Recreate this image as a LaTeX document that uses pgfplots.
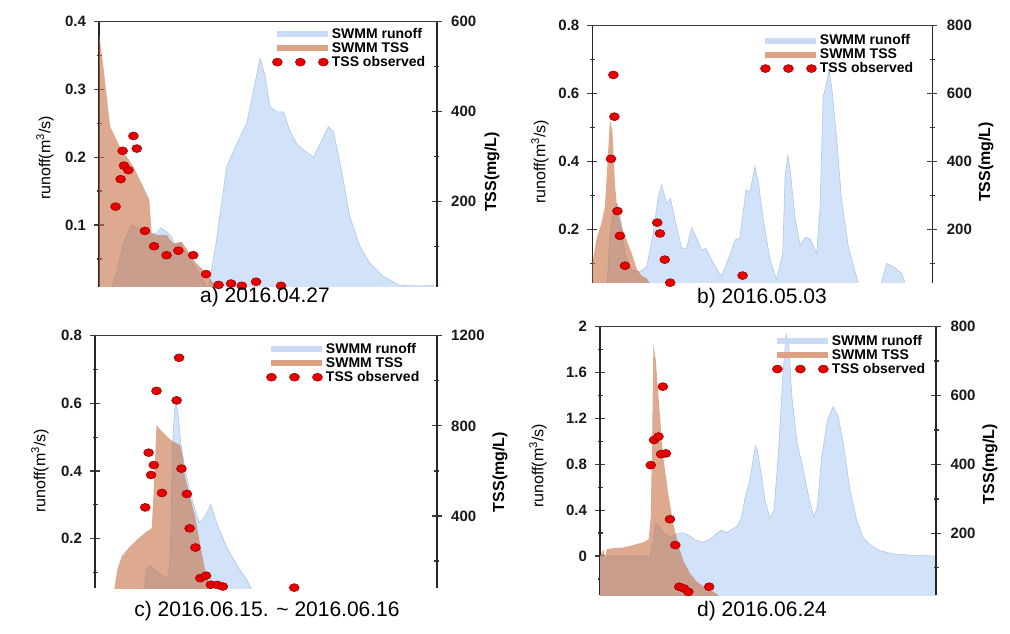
\documentclass[border=0pt]{standalone}
\usepackage{fontspec}
\setmainfont{Liberation Sans}
\setsansfont{Liberation Sans}
\usepackage{pgfplots}
\pgfplotsset{compat=1.18}
\definecolor{runoffblue}{RGB}{210,226,248}
\definecolor{runoffedge}{RGB}{175,198,236}
\definecolor{tssbrown}{RGB}{198,113,70}
\definecolor{legblue}{RGB}{201,219,244}
\definecolor{legbrown}{RGB}{220,162,132}
\definecolor{dotred}{RGB}{230,0,0}
\definecolor{dotedge}{RGB}{150,0,0}
\definecolor{tickgray}{RGB}{60,60,60}
\pgfplotsset{
  base/.style={scale only axis, anchor=south west, xmin=0, xmax=100,
    xtick=\empty,
    axis x line*=top,
    x axis line style={-, tickgray, line width=1.4pt},
    ticklabel style={font=\bfseries\fontsize{15}{15}\selectfont, text=black!90},
    /pgf/number format/assume math mode=true,
    /pgf/number format/1000 sep={},
  },
  leftax/.style={base, axis y line*=left,
    y axis line style={-, black!85, line width=1.6pt},
    ytick pos=left,
    every major y tick/.style={draw=tickgray, line width=1.3pt, xshift=-5pt},
    every minor y tick/.style={draw=tickgray, line width=1.3pt, xshift=-2.5pt},
    major tick length=10pt, minor tick length=5pt,
    yticklabel style={xshift=-9.5pt}},
  rightax/.style={base, axis y line*=right,
    y axis line style={-, black!85, line width=1.6pt},
    ytick pos=right, yticklabel pos=right,
    every major y tick/.style={draw=tickgray, line width=1.3pt, xshift=5pt},
    every minor y tick/.style={draw=tickgray, line width=1.3pt, xshift=2.5pt},
    major tick length=10pt, minor tick length=5pt,
    yticklabel style={xshift=11pt},
    legend cell align=left,
    legend style={draw=none, fill=none, font=\bfseries\fontsize{14}{14}\selectfont,
      nodes={inner sep=0.5pt}, row sep=1.5pt, anchor=north east}},
  blue/.style={fill=runoffblue, draw=runoffedge, line width=0.6pt},
  brown/.style={fill=tssbrown, fill opacity=0.6, draw=none, forget plot},
  dots/.style={only marks, mark=*, mark size=4pt, forget plot,
    mark options={xscale=1.25, fill=dotred, draw=dotedge, line width=0.5pt}},
}
\newcommand{\mylegend}{%
  \addlegendimage{legend image code/.code={\draw[line width=6pt, legblue] (0pt,0pt) -- (51pt,0pt);}}
  \addlegendentry{SWMM runoff}
  \addlegendimage{legend image code/.code={\draw[line width=6pt, legbrown] (0pt,0pt) -- (51pt,0pt);}}
  \addlegendentry{SWMM TSS}
  \addlegendimage{legend image code/.code={\foreach \xx in {0,23,46}{\filldraw[fill=dotred, draw=dotedge, line width=0.5pt] (\xx pt,0pt) ellipse [x radius=5pt, y radius=4pt];}}}
  \addlegendentry{TSS observed}
}
\begin{document}
\begin{tikzpicture}
\useasboundingbox (0pt,0pt) rectangle (1010pt,-634pt);

% ---------------- a ----------------
\begin{axis}[leftax, at={(99pt,-286.7pt)}, width=337.7pt, height=265pt,
  ymin=0.009, ymax=0.4, ytick={0.1,0.2,0.3,0.4}, minor ytick={0.05,0.15,0.25,0.35}]
\addplot[blue] coordinates {(0,0) (3.3,0) (5.2,0.029) (7.2,0.073) (9.7,0.1) (12.1,0.095) (15.1,0.088) (17.1,0.088) (18.3,0.096) (20.0,0.09) (21.5,0.083) (22.5,0.07) (24.0,0.074) (26.0,0.058) (28.9,0.034) (31.4,0.014) (32.4,0.005) (34.8,0.078) (37.8,0.186) (40.8,0.22) (43.7,0.25) (46.2,0.309) (47.7,0.346) (49.2,0.319) (50.6,0.275) (52.6,0.267) (54.6,0.267) (56.6,0.238) (58.5,0.22) (60.5,0.211) (63.5,0.2) (65.5,0.22) (67.9,0.245) (69.4,0.238) (71.4,0.191) (74.3,0.112) (77.3,0.068) (80.3,0.043) (84.2,0.024) (89.1,0.011) (95.1,0.01) (99.0,0.011) (100,0)};
\end{axis}
\begin{axis}[rightax, at={(99pt,-286.7pt)}, width=337.7pt, height=265pt,
  ymin=11, ymax=600, ytick={200,400,600}, minor ytick={100,300,500},
  legend style={at={(0.977,0.985)}}]
\mylegend
\addplot[brown] coordinates {(0,0) (0,574) (1.3,500) (3.3,367) (6.2,322) (10.2,278) (13.1,233) (14.9,204) (15.6,130) (17.1,126) (20.0,126) (22.0,107) (24.5,111) (25.5,100) (27.9,70) (30.9,48) (33.9,19) (35.8,5) (35.8,0)};
\addplot[dots] coordinates {(4.9,189) (6.4,250) (7.0,313) (7.4,280) (8.7,270) (10.2,346) (11.2,318) (13.6,135) (16.3,101) (20.0,81) (23.5,91) (27.9,81) (31.7,39) (35.4,15) (39.1,18) (42.3,13) (46.5,22) (53.9,13)};
\end{axis}

% ---------------- b ----------------
\begin{axis}[leftax, at={(592.3pt,-282.7pt)}, width=340pt, height=257pt,
  ymin=0.043, ymax=0.8, ytick={0.2,0.4,0.6,0.8}, minor ytick={0.1,0.3,0.5,0.7}]
\addplot[blue] coordinates {(0,0) (4.2,0) (5.2,0.188) (6.2,0.257) (7.4,0.275) (8.3,0.237) (9.6,0.129) (11.6,0.08) (14.0,0.075) (16.0,0.09) (17.9,0.188) (19.4,0.296) (20.4,0.331) (21.9,0.277) (23.0,0.291) (24.3,0.228) (26.3,0.144) (27.7,0.144) (29.2,0.205) (30.7,0.174) (32.2,0.139) (33.4,0.144) (35.6,0.1) (38.0,0.061) (40.5,0.125) (42.0,0.169) (43.4,0.174) (45.2,0.316) (46.4,0.311) (47.8,0.385) (48.8,0.34) (50.3,0.228) (52.3,0.11) (54.2,0.051) (56.0,0.129) (56.7,0.355) (57.5,0.419) (58.3,0.365) (59.6,0.237) (61.1,0.154) (62.8,0.178) (64.2,0.169) (66.0,0.129) (67.0,0.267) (67.9,0.591) (68.7,0.62) (69.6,0.669) (70.4,0.62) (71.9,0.463) (73.3,0.286) (75.3,0.149) (77.3,0.075) (78.9,0.02) (84.4,0.02) (86.6,0.1) (88.5,0.09) (91.0,0.07) (92.8,0.02) (100,0)};
\end{axis}
\begin{axis}[rightax, at={(592.3pt,-282.7pt)}, width=340pt, height=257pt,
  ymin=43, ymax=800, ytick={200,400,600,800}, minor ytick={100,300,500,700},
  legend style={at={(0.955,0.975)}}]
\mylegend
\addplot[brown] coordinates {(0,0) (0,100) (1.3,174) (2.7,218) (3.7,267) (4.4,385) (5.2,522) (5.9,493) (6.7,326) (7.4,257) (8.6,208) (10.1,169) (11.6,129) (13.0,85) (14.5,63) (16.0,56) (17.5,30) (17.5,0)};
\addplot[dots] coordinates {(6.2,655) (6.5,532) (5.5,408) (7.4,254) (8.1,181) (9.6,93) (19.1,220) (19.9,188) (21.3,111) (22.9,43) (44.2,64)};
\end{axis}

% ---------------- c ----------------
\begin{axis}[leftax, at={(95pt,-588.3pt)}, width=341.7pt, height=252.6pt,
  ymin=0.053, ymax=0.8, ytick={0.2,0.4,0.6,0.8}, minor ytick={0.1,0.3,0.5,0.7}]
\addplot[blue] coordinates {(0,0) (14.0,0.03) (15.1,0.107) (15.9,0.119) (17.6,0.107) (20.0,0.088) (21.5,0.083) (22.1,0.167) (22.7,0.482) (23.3,0.58) (23.8,0.602) (24.4,0.561) (25.1,0.482) (26.3,0.408) (27.8,0.339) (29.3,0.285) (30.5,0.247) (32.2,0.265) (33.9,0.302) (35.6,0.245) (38.5,0.176) (41.5,0.122) (44.4,0.078) (46.8,0.03) (100,0)};
\end{axis}
\begin{axis}[rightax, at={(95pt,-588.3pt)}, width=341.7pt, height=252.6pt,
  ymin=79, ymax=1200, ytick={400,800,1200}, minor ytick={200,600,1000},
  legend style={at={(0.96,0.98)}}]
\mylegend
\addplot[brown] coordinates {(5.2,0) (5.7,79) (6.5,160) (7.8,220) (9.8,257) (12.2,294) (15.1,331) (16.6,345) (17.1,486) (17.7,693) (18.0,804) (19.0,784) (20.5,762) (22.4,734) (24.9,715) (25.7,663) (26.3,575) (27.8,486) (29.3,397) (30.7,279) (32.2,160) (33.7,79) (34.2,0)};
\addplot[dots] coordinates {(24.6,1102) (18.0,955) (23.9,913) (15.7,681) (17.2,626) (16.4,582) (19.6,502) (14.7,438) (25.3,610) (26.9,498) (27.7,345) (29.4,260) (30.8,124) (32.5,135) (33.9,95) (35.8,94) (37.4,87) (58.3,82)};
\end{axis}

% ---------------- d ----------------
\begin{axis}[leftax, at={(600pt,-595pt)}, width=336pt, height=268.3pt,
  ymin=-0.34, ymax=2, ytick={0,0.4,0.8,1.2,1.6,2}, minor ytick={-0.2,0.2,0.6,1.0,1.4,1.8}]
\addplot[blue] coordinates {(0,-0.4) (0,0) (14.9,0) (15.7,0.11) (16.5,0.285) (17.7,0.256) (19.0,0.198) (20.8,0.163) (22.6,0.192) (24.6,0.203) (26.3,0.183) (28.3,0.14) (30.6,0.119) (32.7,0.145) (34.7,0.198) (36.2,0.227) (37.7,0.203) (39.4,0.235) (40.9,0.262) (42.2,0.343) (43.2,0.517) (44.4,0.634) (45.4,0.808) (46.2,0.959) (46.8,0.924) (47.8,0.75) (49.1,0.488) (50.6,0.328) (51.8,0.401) (53.1,0.895) (54.4,1.564) (55.4,1.933) (56.2,1.826) (57.1,1.39) (58.7,0.983) (60.5,0.75) (62.3,0.488) (63.7,0.343) (64.7,0.43) (66.0,0.866) (67.7,1.186) (69.4,1.302) (70.9,1.215) (72.4,0.983) (74.4,0.576) (76.4,0.314) (78.4,0.154) (80.4,0.096) (83.3,0.047) (87.3,0.017) (93.3,0.006) (100,0) (100,-0.4)};
\end{axis}
\begin{axis}[rightax, at={(600pt,-595pt)}, width=336pt, height=268.3pt,
  ymin=21, ymax=800, ytick={200,400,600,800}, minor ytick={100,300,500,700},
  legend style={at={(0.979,0.978)}}]
\mylegend
\addplot[brown] coordinates {(0,0) (0,132) (1.0,154) (1.5,127) (2.0,154) (4.0,157) (6.9,159) (9.9,166) (12.9,174) (14.5,183) (15.1,248) (15.5,461) (15.9,750) (16.6,703) (17.7,558) (18.8,423) (20.3,316) (21.8,229) (23.3,166) (24.8,121) (26.8,84) (28.8,60) (31.3,42) (33.7,31) (35.9,15) (36.5,0)};
\addplot[dots] coordinates {(18.7,626) (16.1,471) (17.4,481) (15.1,398) (18.2,430) (19.6,432) (20.8,241) (22.4,166) (23.6,45) (25.0,40) (26.3,30) (32.5,45) (29.3,18)};
\end{axis}

% ---------------- labels ----------------
\begin{scope}[every node/.style={font=\fontsize{16}{16}\selectfont}]
\node[rotate=90] at (45pt,-158pt) {runoff(m\textsuperscript{3}/s)};
\node[rotate=90] at (540pt,-162pt) {runoff(m\textsuperscript{3}/s)};
\node[rotate=90] at (40pt,-471pt) {runoff(m\textsuperscript{3}/s)};
\node[rotate=90] at (538pt,-466pt) {runoff(m\textsuperscript{3}/s)};
\end{scope}
\begin{scope}[every node/.style={font=\bfseries\fontsize{16}{16}\selectfont}]
\node[rotate=90] at (492pt,-172pt) {TSS(mg/L)};
\node[rotate=90] at (986pt,-162pt) {TSS(mg/L)};
\node[rotate=90] at (500pt,-472pt) {TSS(mg/L)};
\node[rotate=90] at (990pt,-464pt) {TSS(mg/L)};
\end{scope}
\begin{scope}[every node/.style={font=\fontsize{21}{21}\selectfont}]
\node at (265pt,-297pt) {a) 2016.04.27};
\node at (762pt,-298pt) {b) 2016.05.03};
\node at (267pt,-611pt) {c) 2016.06.15. \textasciitilde{} 2016.06.16};
\node at (762pt,-611pt) {d) 2016.06.24};
\end{scope}
\end{tikzpicture}
\end{document}
